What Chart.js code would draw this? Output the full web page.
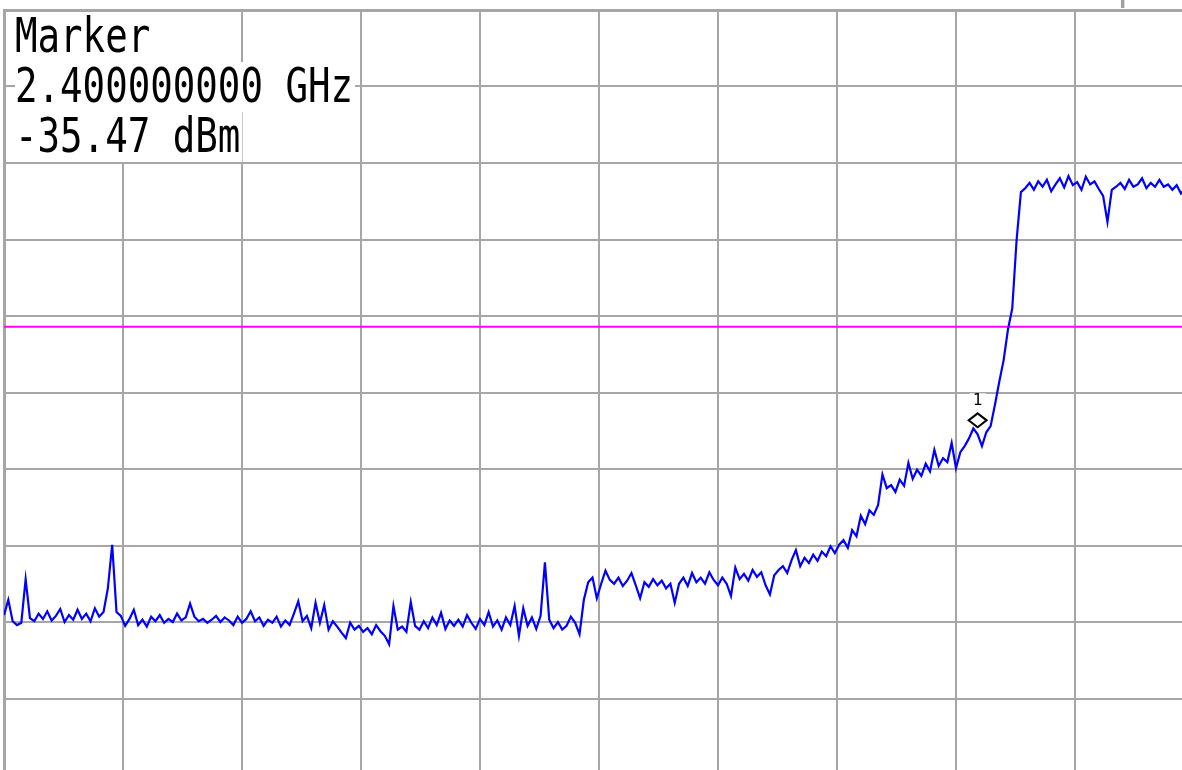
<!DOCTYPE html>
<html>
<head>
<meta charset="utf-8">
<title>Spectrum trace</title>
<script src="https://cdn.jsdelivr.net/npm/chart.js@4.4.1/dist/chart.umd.min.js"></script>
<style>
    html, body { margin: 0; padding: 0; background: #fff; overflow: hidden; }
    #wrap { position: relative; width: 1200px; height: 780px; }
</style>
</head>
<body>
<div id="wrap"><canvas id="spectrumChart"></canvas></div>
<script>
// sweep settings (MHz) and grid
const freqStartMHz = 2310;
const freqStopMHz = 2420;
const freqStepMHz = 0.4;
const freqPerDivMHz = 11;
const refLevelDbm = 20;
const bottomLevelDbm = -80;
const dbPerDiv = 10;

// trace, one value per sweep point (dBm)
const traceDbm = [
    -59.1, -57.1, -59.9, -60.4, -60.1, -54.4, -59.5, -59.9, -58.9, -59.6,
    -58.6, -59.8, -59.2, -58.3, -60.0, -59.1, -59.7, -58.4, -59.6, -58.9,
    -59.9, -58.2, -59.3, -58.7, -55.6, -49.9, -58.7, -59.2, -60.5, -59.6,
    -58.4, -60.4, -59.7, -60.6, -59.3, -59.9, -59.1, -60.1, -59.6, -60.0,
    -58.9, -59.8, -59.4, -57.6, -59.3, -59.9, -59.6, -60.1, -59.7, -59.2,
    -60.0, -59.4, -59.8, -60.4, -59.3, -60.1, -59.6, -58.6, -59.9, -59.4,
    -60.5, -59.7, -60.1, -59.3, -60.6, -59.8, -60.4, -58.9, -57.3, -59.9,
    -59.2, -60.8, -57.5, -60.1, -57.8, -61.0, -59.9, -60.6, -61.4, -62.1,
    -60.1, -61.0, -60.5, -61.3, -60.8, -61.6, -60.4, -61.2, -61.8, -62.9,
    -57.9, -61.0, -60.6, -61.3, -57.4, -60.5, -61.0, -59.9, -60.8, -59.4,
    -60.4, -58.8, -60.9, -59.8, -60.5, -59.7, -60.6, -59.1, -60.1, -60.9,
    -59.6, -60.4, -58.7, -60.6, -59.8, -61.0, -59.4, -60.4, -57.9, -61.8,
    -58.2, -60.5, -59.4, -60.9, -59.2, -52.2, -59.7, -60.8, -60.0, -61.0,
    -60.5, -59.3, -60.1, -61.6, -57.1, -54.8, -54.2, -56.9, -55.0, -53.3,
    -54.5, -55.0, -54.2, -55.3, -54.6, -53.6, -55.2, -56.9, -54.8, -55.4,
    -54.4, -55.2, -54.6, -55.6, -55.0, -57.5, -55.0, -54.2, -55.3, -53.6,
    -54.8, -54.2, -55.0, -53.5, -54.5, -55.2, -54.2, -55.0, -56.6, -52.9,
    -54.4, -53.7, -54.6, -53.2, -54.1, -53.5, -55.2, -56.4, -53.9, -53.2,
    -52.7, -53.6, -51.9, -50.6, -52.7, -51.6, -52.3, -51.2, -52.0, -50.8,
    -51.4, -50.1, -51.0, -49.9, -49.3, -50.3, -48.0, -48.8, -46.1, -47.2,
    -45.4, -46.0, -44.7, -40.7, -42.5, -42.1, -43.0, -41.4, -42.2, -39.2,
    -41.3, -40.1, -40.9, -39.3, -40.3, -37.5, -39.6, -38.6, -39.1, -36.6,
    -39.9, -37.8, -37.0, -36.0, -34.7, -35.47, -37.0, -35.2, -34.4, -31.6,
    -28.6, -25.8, -21.8, -19.0, -10.1, -3.8, -3.3, -2.6, -3.5, -2.4,
    -3.1, -2.2, -3.7, -2.8, -2.0, -3.2, -1.7, -2.9, -2.5, -3.5,
    -1.8, -2.8, -2.4, -3.4, -4.3, -7.7, -3.5, -3.1, -2.6, -3.4,
    -2.2, -3.1, -2.8, -2.0, -3.3, -2.6, -3.1, -2.2, -3.1, -2.8,
    -3.5, -2.9, -4.0, -3.3, -3.5, -3.1
];

// display line and marker 1
const displayLineDbm = -21.4;
const markerFreqMHz = 2400;
const markerDbm = -35.47;

// header texts, only their lower edge shows on the screen
const headerTexts = [
    { text: 'Ref 20 dBm', x: -145 },
    { text: 'Atten 30 dB', x: 290 },
    { text: 'Stop 2.42 GHz', x: 1050 }
];

document.addEventListener('DOMContentLoaded', () => {

    const tracePoints = traceDbm.map((v, i) => ({ x: freqStartMHz + i * freqStepMHz, y: v }));

    const markerLines = [
        'Marker',
        (markerFreqMHz / 1000).toFixed(9) + ' GHz',
        markerDbm.toFixed(2) + ' dBm'
    ];

    // narrow monospaced text like the analyzer's bitmap font
    function drawNarrowText(ctx, text, x, y, squeeze) {
        ctx.save();
        ctx.translate(x, y);
        ctx.scale(squeeze, 1);
        ctx.fillText(text, 0, 0);
        ctx.restore();
    }

    const overlayPlugin = {
        id: 'analyzerOverlay',
        afterDraw(chart) {
            const ctx = chart.ctx;
            const xs = chart.scales.x;
            const ys = chart.scales.y;
            const squeeze = 0.78;

            ctx.save();
            ctx.font = '48px "DejaVu Sans Mono"';
            ctx.textBaseline = 'alphabetic';

            // header (cut off by the top of the screen)
            ctx.fillStyle = '#a0a0a0';
            headerTexts.forEach(h => drawNarrowText(ctx, h.text, h.x, -2, squeeze));

            // marker readout block
            markerLines.forEach((line, i) => {
                const w = ctx.measureText(line).width * squeeze;
                ctx.fillStyle = '#ffffff';
                ctx.fillRect(15, 12 + i * 50, w + 2, 50);
                ctx.fillStyle = '#000000';
                drawNarrowText(ctx, line, 15, 52 + i * 50, squeeze);
            });

            // marker diamond sits just above the trace point
            const mx = xs.getPixelForValue(markerFreqMHz);
            const my = ys.getPixelForValue(markerDbm) - 14;
            ctx.strokeStyle = '#000000';
            ctx.lineWidth = 2;
            ctx.beginPath();
            ctx.moveTo(mx, my - 7);
            ctx.lineTo(mx + 9, my);
            ctx.lineTo(mx, my + 7);
            ctx.lineTo(mx - 9, my);
            ctx.closePath();
            ctx.stroke();

            ctx.font = '16px "DejaVu Sans Mono"';
            ctx.textAlign = 'center';
            ctx.fillStyle = '#ffffff';
            ctx.fillRect(mx - 8, my - 27, 16, 14);
            ctx.fillStyle = '#000000';
            ctx.fillText('1', mx, my - 15);
            ctx.restore();
        }
    };

    const spectrumCtx = document.getElementById('spectrumChart');
    new Chart(spectrumCtx, {
        type: 'line',
        data: {
            datasets: [{
                label: 'Trace 1',
                data: tracePoints,
                borderColor: '#0000ff',
                borderWidth: 2.2,
                pointRadius: 0,
                tension: 0,
                order: 1
            }, {
                label: 'Display line',
                data: [{ x: freqStartMHz, y: displayLineDbm }, { x: freqStopMHz, y: displayLineDbm }],
                borderColor: '#ff00ff',
                borderWidth: 2,
                pointRadius: 0,
                order: 2
            }]
        },
        options: {
            responsive: true,
            maintainAspectRatio: false,
            animation: false,
            events: [],
            layout: { padding: { left: 4, top: 10, right: 6, bottom: 5 } },
            plugins: {
                legend: { display: false },
                tooltip: { enabled: false }
            },
            scales: {
                x: {
                    type: 'linear',
                    min: freqStartMHz,
                    max: freqStopMHz,
                    ticks: { display: false, stepSize: freqPerDivMHz },
                    grid: { color: '#a6a6a6', lineWidth: 2, drawTicks: false },
                    border: { display: false }
                },
                y: {
                    min: bottomLevelDbm,
                    max: refLevelDbm,
                    ticks: { display: false, stepSize: dbPerDiv },
                    grid: {
                        color: '#a6a6a6',
                        lineWidth: c => (c.tick && c.tick.value === refLevelDbm ? 3 : 2),
                        drawTicks: false
                    },
                    border: { display: true, color: '#a6a6a6', width: 3 }
                }
            }
        },
        plugins: [overlayPlugin]
    });

});
</script>
</body>
</html>
